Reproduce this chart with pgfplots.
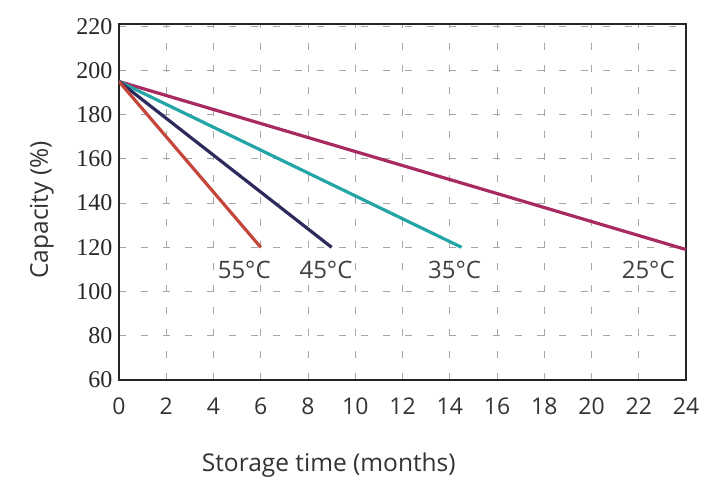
\documentclass[border=0pt]{standalone}
\usepackage{fontspec}
\setmainfont{Open Sans}
\newfontfamily\serifnum{Liberation Serif}
\usepackage{pgfplots}
\pgfplotsset{compat=1.18}

\definecolor{c55}{HTML}{C4463A}
\definecolor{c45}{HTML}{2D2A5C}
\definecolor{c35}{HTML}{23A5A8}
\definecolor{c25}{HTML}{A82A62}

\begin{document}
\begin{tikzpicture}
\begin{axis}[
    scale only axis,
    width=567bp, height=356bp,
    xmin=0, xmax=24, ymin=60, ymax=221,
    xtick={0,2,...,24}, ytick={60,80,...,220},
    major tick length=0pt,
    grid=major,
    major grid style={gray!70, line width=0.9bp, dash pattern=on 7bp off 15bp},
    axis line style={black!85, line width=1.6bp},
    x tick label style={font=\fontsize{23bp}{25bp}\selectfont\color{black!80}, yshift=-14bp},
    y tick label style={font=\fontsize{24bp}{26bp}\serifnum\color{black!85}, xshift=-3bp},
    /pgf/number format/assume math mode=true,
    xlabel={Storage time (months)},
    ylabel={Capacity (\%)},
    xlabel style={at={(rel axis cs:0.37,-0.239)}, anchor=center, font=\fontsize{24.5bp}{26bp}\selectfont\color{black!80}},
    ylabel style={at={(rel axis cs:-0.136,0.478)}, anchor=center, font=\fontsize{24.5bp}{26bp}\selectfont\color{black!80}},
    every axis plot/.append style={line width=3.2bp},
]
\addplot[c25, no marks] coordinates {(0,195) (24,119)};
\addplot[c35, no marks] coordinates {(0,195) (14.5,120)};
\addplot[c45, no marks] coordinates {(0,195) (9,120)};
\addplot[c55, no marks] coordinates {(0,195) (6,120)};
\node[font=\fontsize{24bp}{26bp}\selectfont\color{black!75}] at (axis cs:5.3,110) {55°C};
\node[font=\fontsize{24bp}{26bp}\selectfont\color{black!75}] at (axis cs:8.76,110) {45°C};
\node[font=\fontsize{24bp}{26bp}\selectfont\color{black!75}] at (axis cs:14.2,110) {35°C};
\node[font=\fontsize{24bp}{26bp}\selectfont\color{black!75}] at (axis cs:22.4,110) {25°C};
\end{axis}
\useasboundingbox (current axis.south west) ++(-119bp,-110bp) rectangle ++(727bp,490bp);
\end{tikzpicture}
\end{document}
